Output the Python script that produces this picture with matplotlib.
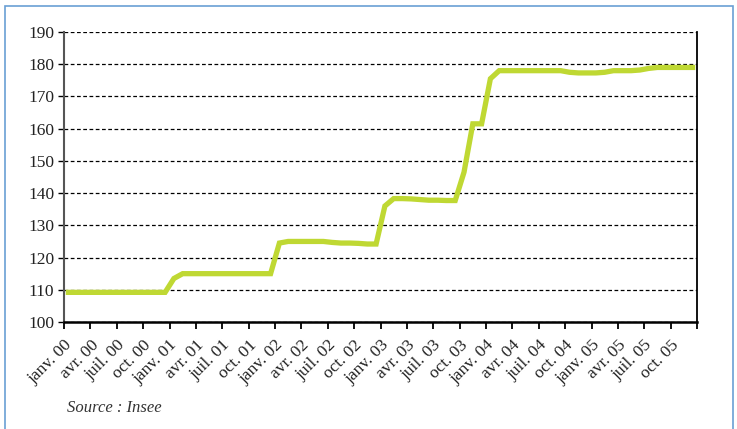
import matplotlib
matplotlib.use('Agg')
import matplotlib.pyplot as plt
import matplotlib.transforms as mtransforms
from matplotlib.patches import Rectangle

# monthly index, janv. 2000 -> déc. 2005
values = [109.2] * 12 + [113.5] + [115.0] * 11 + [124.5] + [125.0] * 5 \
    + [124.7, 124.5, 124.5, 124.4, 124.2, 124.2] \
    + [136.0, 138.3, 138.3, 138.2, 138.0, 137.8, 137.8, 137.7, 137.7] \
    + [146.5, 161.5, 161.5, 175.5] + [178.0] * 8 \
    + [177.5, 177.3, 177.3, 177.3, 177.5, 178.0, 178.0, 178.0, 178.2, 178.7] \
    + [179.0] * 5

months = ['janv.', 'avr.', 'juil.', 'oct.']
years = ['00', '01', '02', '03', '04', '05']
tick_labels = [m + ' ' + y for y in years for m in months] + ['']

plt.rcParams['font.family'] = ['Liberation Serif', 'DejaVu Serif']

fig = plt.figure(figsize=(7.37, 4.29), dpi=100)
# blue frame around the figure
fig.patches.append(Rectangle((5 / 737, -0.05), 728 / 737, 1.05 - 6 / 429,
                             transform=fig.transFigure, fill=False,
                             edgecolor='#6a9fd4', linewidth=1.2))

ax = fig.add_axes([64 / 737, 1 - 322 / 429, 633 / 737, 290 / 429])
x = [i + 0.5 for i in range(len(values))]
ax.plot(x, values, color='#bfd833', linewidth=3.8, solid_joinstyle='miter')

ax.set_xlim(0, 72)
ax.set_ylim(100, 190)
ax.set_yticks(range(100, 191, 10))
ax.set_xticks(range(0, 73, 3))
ax.set_xticklabels(tick_labels, rotation=45, ha='right', va='top',
                   rotation_mode='anchor', fontsize=12.5, color='#222222')
shift = mtransforms.ScaledTranslation(-3 / 100, 2 / 100, fig.dpi_scale_trans)
for lab in ax.get_xticklabels():
    lab.set_transform(lab.get_transform() + shift)
ax.tick_params(axis='y', labelsize=12.5, labelcolor='#222222', length=4,
               width=1, pad=3, direction='out')
ax.tick_params(axis='x', length=5, width=1.3, pad=6, direction='out')
ax.yaxis.grid(True, linestyle=(0, (3, 2)), color='black', linewidth=0.9)
ax.set_axisbelow(True)

ax.spines['top'].set_visible(False)
ax.spines['left'].set_color('#555555')
ax.spines['left'].set_linewidth(1.5)
ax.spines['bottom'].set_linewidth(1.8)
ax.spines['right'].set_linewidth(1.3)

fig.text(67 / 737, 1 - 408 / 429, 'Source : Insee', fontsize=12,
         style='italic', va='center', color='#333333')

fig.savefig('out.png', dpi=100)
